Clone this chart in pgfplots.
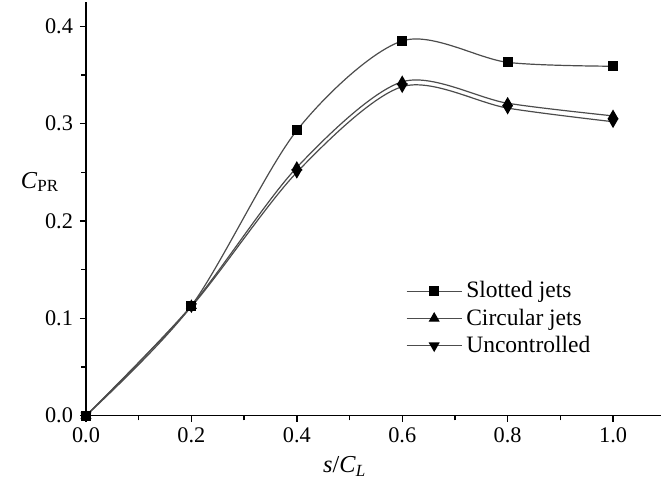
\documentclass[border=0pt]{standalone}
\usepackage{fontspec}
\setmainfont{Liberation Serif}
\usepackage{pgfplots}
\pgfplotsset{compat=1.18}
\usetikzlibrary{calc}

\pgfplotstableread{
x    y
0.0  0.000
0.2  0.113
0.4  0.293
0.6  0.385
0.8  0.363
1.0  0.359
}\slotted
\pgfplotstableread{
x    y
0.0  0.000
0.2  0.113
0.4  0.255
0.6  0.343
0.8  0.321
1.0  0.308
}\circular
\pgfplotstableread{
x    y
0.0  0.000
0.2  0.112
0.4  0.250
0.6  0.338
0.8  0.316
1.0  0.302
}\uncontrolled

\begin{document}
\begin{tikzpicture}
\begin{axis}[name=ax, scale only axis, width=287.5bp, height=206.85bp,
  xmin=0, xmax=1.091, ymin=0, ymax=0.425,
  axis x line*=bottom, axis y line*=left, axis line style={line width=0.7bp},
  xtick={0,0.2,...,1.0}, ytick={0,0.1,...,0.4},
  minor x tick num=1, minor y tick num=1,
  tick align=outside, major tick length=3bp, minor tick length=2.4bp,
  tick style={line width=0.7bp, black},
  /pgf/number format/.cd, fixed, fixed zerofill, precision=1, assume math mode=true, /pgfplots/.cd,
  tick label style={font=\fontsize{11.2}{13}\selectfont},
  xticklabel style={yshift=0.5bp},
  xlabel={\textit{s}/\textit{C}\textsubscript{\textit{L}}},
  xlabel style={font=\fontsize{12.2}{14}\selectfont, at={(axis description cs:0.45,0)}, anchor=center, yshift=-25.5bp},
  ylabel={\textit{C}\textsubscript{PR}},
  ylabel style={font=\fontsize{12.2}{14}\selectfont, rotate=-90, at={(axis description cs:0,0.565)}, anchor=center, xshift=-23bp},
  legend style={at={(axis description cs:0.556,0.335)}, anchor=north west, draw=none, fill=none,
    font=\fontsize{11.8}{14}\selectfont, row sep=0bp, inner sep=0pt},
  legend cell align=left,
  legend image code/.code={\draw[mark repeat=2,mark phase=2] plot coordinates {(0bp,0bp) (13.75bp,0bp) (27.5bp,0bp)};},
  every axis plot/.append style={black!70, line width=0.6bp},
  clip=false]
\addplot[smooth, mark=square*, mark size=2.2bp, mark options={fill=black, draw=black}] table {\slotted};
\addplot[smooth, mark=triangle*, mark size=2.6bp, mark options={fill=black, draw=black}] table {\circular};
\addplot[smooth, mark=triangle*, mark size=2.6bp, mark options={fill=black, draw=black, rotate=180}] table {\uncontrolled};
\legend{Slotted jets, Circular jets, Uncontrolled}
\end{axis}
\pgfresetboundingbox
\path[use as bounding box] ($(ax.south west)+(-43bp,-35.65bp)$) rectangle ($(ax.south west)+(287.5bp,207.85bp)$);
\end{tikzpicture}
\end{document}
